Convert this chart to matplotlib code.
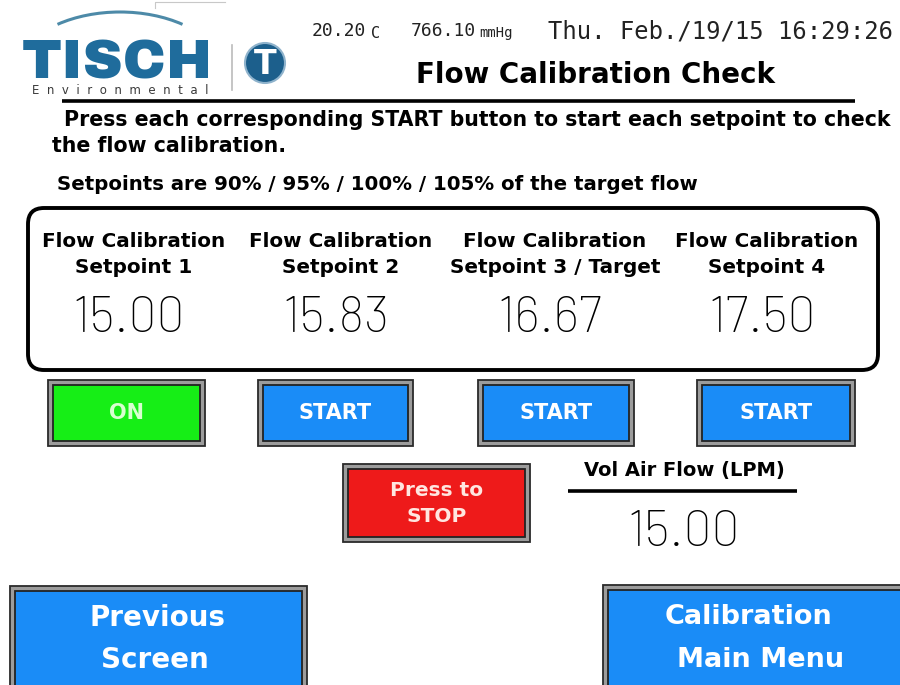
import numpy as np
import matplotlib.pyplot as plt
from matplotlib.patches import Rectangle, FancyBboxPatch, Circle, Arc

# ── Screen content ────────────────────────────────────────────────────────
temperature = "20.20"
pressure = "766.10"
timestamp = "Thu. Feb./19/15 16:29:26"
title = "Flow Calibration Check"
instructions = ["Press each corresponding START button to start each setpoint to check",
                "the flow calibration."]
setpoint_note = "Setpoints are 90% / 95% / 100% / 105% of the target flow"

setpoint_names = ["Setpoint 1", "Setpoint 2", "Setpoint 3 / Target", "Setpoint 4"]
setpoint_values = [15.00, 15.83, 16.67, 17.50]
setpoint_states = ["ON", "START", "START", "START"]
vol_air_flow = 15.00

# ── Fonts / colours ───────────────────────────────────────────────────────
SANS = "DejaVu Sans"
DIGITS = ["Barlow", "Liberation Sans"]
LOGO = ["Archivo Black", "DejaVu Sans"]
MONO = "DejaVu Sans Mono"

BLUE = "#1a8cf7"
GREEN = "#16ee16"
RED = "#ee1a1a"

fig = plt.figure(figsize=(9, 6.85), dpi=100)
ax = fig.add_axes([0, 0, 1, 1])
ax.set_xlim(0, 900)
ax.set_ylim(685, 0)
ax.axis("off")


def button(x0, y0, x1, y1, face, lines, fs, tcolor, line_y=None, line_x=None):
    w, h = x1 - x0, y1 - y0
    ax.add_patch(Rectangle((x0, y0), w, h, facecolor="#9c9c9c", edgecolor="#2a2a2a", lw=1.3))
    ax.add_patch(Rectangle((x0 + 5, y0 + 5), w - 10, h - 10, facecolor=face,
                           edgecolor="#222222", lw=1.3))
    line_y = line_y or [y0 + h / 2]
    line_x = line_x or [(x0 + x1) / 2] * len(lines)
    for s, tx, ty in zip(lines, line_x, line_y):
        ax.text(tx, ty, s, ha="center", va="center", fontsize=fs, fontweight="bold",
                color=tcolor, family=SANS)


# ── Logo ──────────────────────────────────────────────────────────────────
ax.plot([155, 155, 225], [8, 2, 2], color="#c8c8c8", lw=0.8)
ax.add_patch(Arc((120, 75), 210, 126, theta1=219, theta2=321, color="#4d8aa8", lw=2.2))
ax.text(117, 78, "TISCH", ha="center", va="baseline", fontsize=40, fontweight="heavy",
        color="#1f6c9c", family=LOGO)
ax.text(120, 90, "  ".join("Environmental"), ha="center", va="center", fontsize=8.5,
        color="#3a3a3a", family=SANS)
ax.plot([232, 232], [45, 90], color="#bbbbbb", lw=1.2)
ax.add_patch(Circle((265, 63), 20, facecolor="#1c5f8c", edgecolor="#8fb3cc", lw=1.5))
ax.text(265, 64, "T", ha="center", va="center", fontsize=24, fontweight="bold",
        color="white", family=SANS)

# ── Header ────────────────────────────────────────────────────────────────
ax.text(312, 31, temperature, ha="left", va="center", fontsize=13, family=MONO, color="#222222")
ax.text(371, 33, "C", ha="left", va="center", fontsize=11, family=MONO, color="#222222")
ax.text(411, 31, pressure, ha="left", va="center", fontsize=13, family=MONO, color="#222222")
ax.text(479, 33, "mmHg", ha="left", va="center", fontsize=10, family=MONO, color="#222222")
ax.text(548, 31, timestamp, ha="left", va="center", fontsize=17.2, family=MONO, color="#222222")
ax.text(596, 75, title, ha="center", va="center", fontsize=20, fontweight="bold", family=SANS)
ax.plot([62, 855], [101, 101], color="black", lw=2.6, solid_capstyle="butt")

ax.text(64, 120, instructions[0], ha="left", va="center", fontsize=14.8, fontweight="bold", family=SANS)
ax.text(52, 146, instructions[1], ha="left", va="center", fontsize=14.8, fontweight="bold", family=SANS)
ax.text(57, 184, setpoint_note, ha="left", va="center", fontsize=14.2, fontweight="bold", family=SANS)

# ── Setpoint panel ────────────────────────────────────────────────────────
ax.add_patch(FancyBboxPatch((28, 208), 850, 162, boxstyle="round,pad=0,rounding_size=16",
                            facecolor="white", edgecolor="black", lw=2.8))
col_x = [134, 341, 555, 767]
btn_x = [(48, 205), (258, 413), (478, 634), (697, 855)]
for cx, name, val, state, (bx0, bx1) in zip(col_x, setpoint_names, setpoint_values,
                                            setpoint_states, btn_x):
    ax.text(cx, 241, "Flow Calibration", ha="center", va="center", fontsize=14.4,
            fontweight="bold", family=SANS)
    ax.text(cx, 267, name, ha="center", va="center", fontsize=14.4, fontweight="bold", family=SANS)
    ax.text(cx - 5, 319, f"{val:.2f}", ha="center", va="center", fontsize=36,
            fontweight="light", family=DIGITS)
    on = state == "ON"
    button(bx0, 380, bx1, 446, GREEN if on else BLUE, [state], 15,
           "#d8ffd0" if on else "white")

# ── Stop / live flow ──────────────────────────────────────────────────────
button(343, 464, 530, 542, RED, ["Press to", "STOP"], 14.5, "#ffe6e0", line_y=[490, 516])
ax.text(684, 470, "Vol Air Flow (LPM)", ha="center", va="center", fontsize=14,
        fontweight="bold", family=SANS)
ax.plot([568, 797], [491, 491], color="black", lw=2.6, solid_capstyle="butt")
ax.text(684, 533, f"{vol_air_flow:.2f}", ha="center", va="center", fontsize=36,
        fontweight="light", family=DIGITS)

# ── Navigation ────────────────────────────────────────────────────────────
button(10, 586, 307, 700, BLUE, ["Previous", "Screen"], 20, "white",
       line_y=[618, 660], line_x=[158, 155])
button(603, 585, 910, 700, BLUE, ["Calibration", "Main Menu"], 19.5, "white",
       line_y=[617, 660], line_x=[748, 761])

fig.savefig("out.png", dpi=100)
